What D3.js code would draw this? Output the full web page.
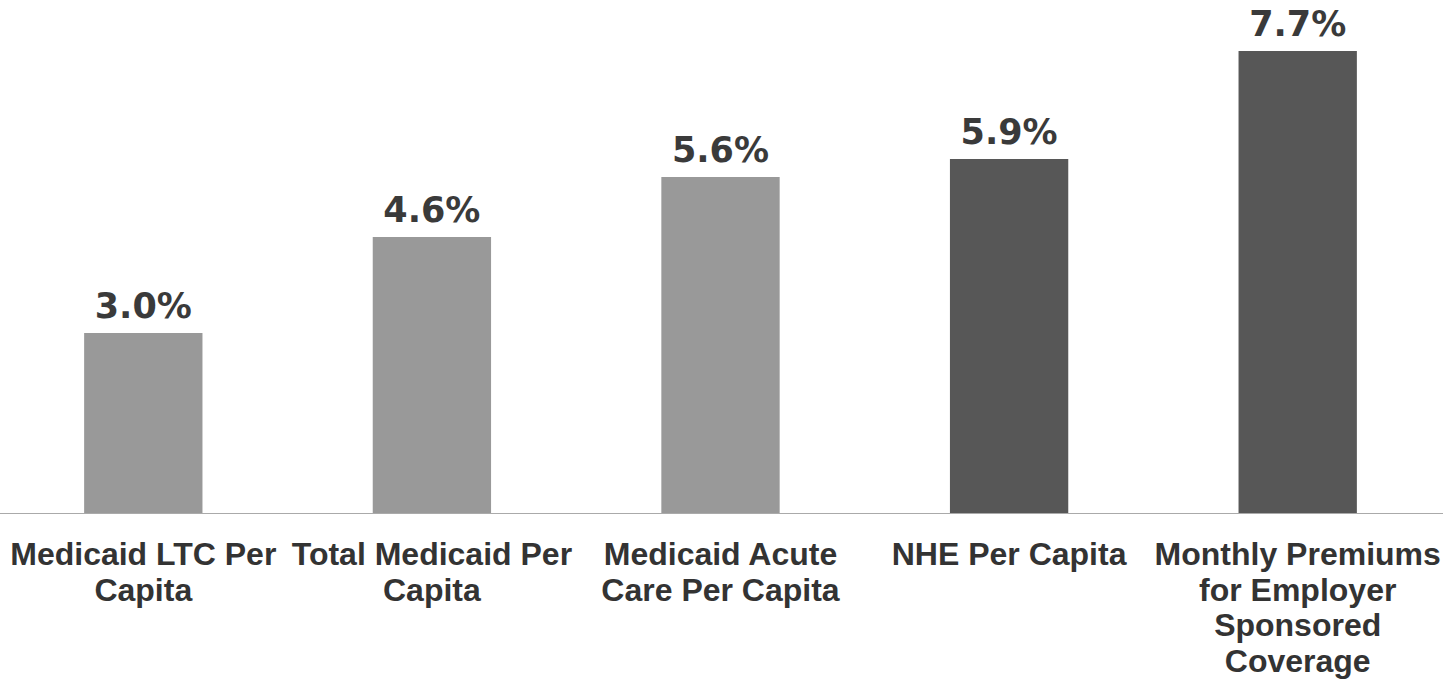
<!DOCTYPE html>
<html>
<head>
<meta charset="utf-8">
<script src="https://cdn.jsdelivr.net/npm/d3@7"></script>
<style>
  html, body { margin: 0; padding: 0; background: #ffffff; }
  svg { display: block; }
</style>
</head>
<body>
<svg id="chart" width="1443" height="683"></svg>
<script>
// Category labels, one entry per bar, split into display lines
const categories = [
  "Medicaid LTC Per Capita",
  "Total Medicaid Per Capita",
  "Medicaid Acute Care Per Capita",
  "NHE Per Capita",
  "Monthly Premiums for Employer Sponsored Coverage"
];
const labelLines = [
  ["Medicaid LTC Per", "Capita"],
  ["Total Medicaid Per", "Capita"],
  ["Medicaid Acute", "Care Per Capita"],
  ["NHE Per Capita"],
  ["Monthly Premiums", "for Employer", "Sponsored", "Coverage"]
];
// Average annual growth, percent
const growth = [3.0, 4.6, 5.6, 5.9, 7.7];
// Medicaid measures vs. national / private benchmarks
const group = ["medicaid", "medicaid", "medicaid", "benchmark", "benchmark"];

const width = 1443, height = 683;
const baseY = 513;
const svg = d3.select("#chart");

const x = d3.scaleBand()
  .domain(categories)
  .range([-1, 1442])
  .paddingInner(0.59)
  .paddingOuter(0.295);

const y = d3.scaleLinear()
  .domain([0, 8.55])
  .range([baseY, 0]);

const color = d3.scaleOrdinal()
  .domain(["medicaid", "benchmark"])
  .range(["#999999", "#575757"]);

const data = categories.map((c, i) => ({ cat: c, value: growth[i], lines: labelLines[i], group: group[i] }));

// Bars
svg.append("g")
  .selectAll("rect")
  .data(data)
  .join("rect")
  .attr("x", d => x(d.cat))
  .attr("y", d => y(d.value))
  .attr("width", x.bandwidth())
  .attr("height", d => y(0) - y(d.value))
  .attr("fill", d => color(d.group));

// Baseline
svg.append("line")
  .attr("x1", 0).attr("x2", width)
  .attr("y1", y(0) + 0.5).attr("y2", y(0) + 0.5)
  .attr("stroke", "#aaaaaa")
  .attr("stroke-width", 1);

// Value labels
svg.append("g")
  .selectAll("text")
  .data(data)
  .join("text")
  .attr("x", d => x(d.cat) + x.bandwidth() / 2)
  .attr("y", d => y(d.value) - 15)
  .attr("text-anchor", "middle")
  .attr("font-family", "'DejaVu Sans', sans-serif")
  .attr("font-weight", "bold")
  .attr("font-size", 35)
  .attr("fill", "#3a3a3a")
  .text(d => d.value.toFixed(1) + "%");

// Category labels
const catText = svg.append("g")
  .selectAll("text")
  .data(data)
  .join("text")
  .attr("text-anchor", "middle")
  .attr("font-family", "'Liberation Sans', Arial, sans-serif")
  .attr("font-weight", "bold")
  .attr("font-size", 32)
  .attr("fill", "#333333");

catText.selectAll("tspan")
  .data(d => d.lines.map(l => ({ l, cx: x(d.cat) + x.bandwidth() / 2 })))
  .join("tspan")
  .attr("x", d => d.cx)
  .attr("y", (d, i) => baseY + 52 + i * 35.7)
  .text(d => d.l);
</script>
</body>
</html>
